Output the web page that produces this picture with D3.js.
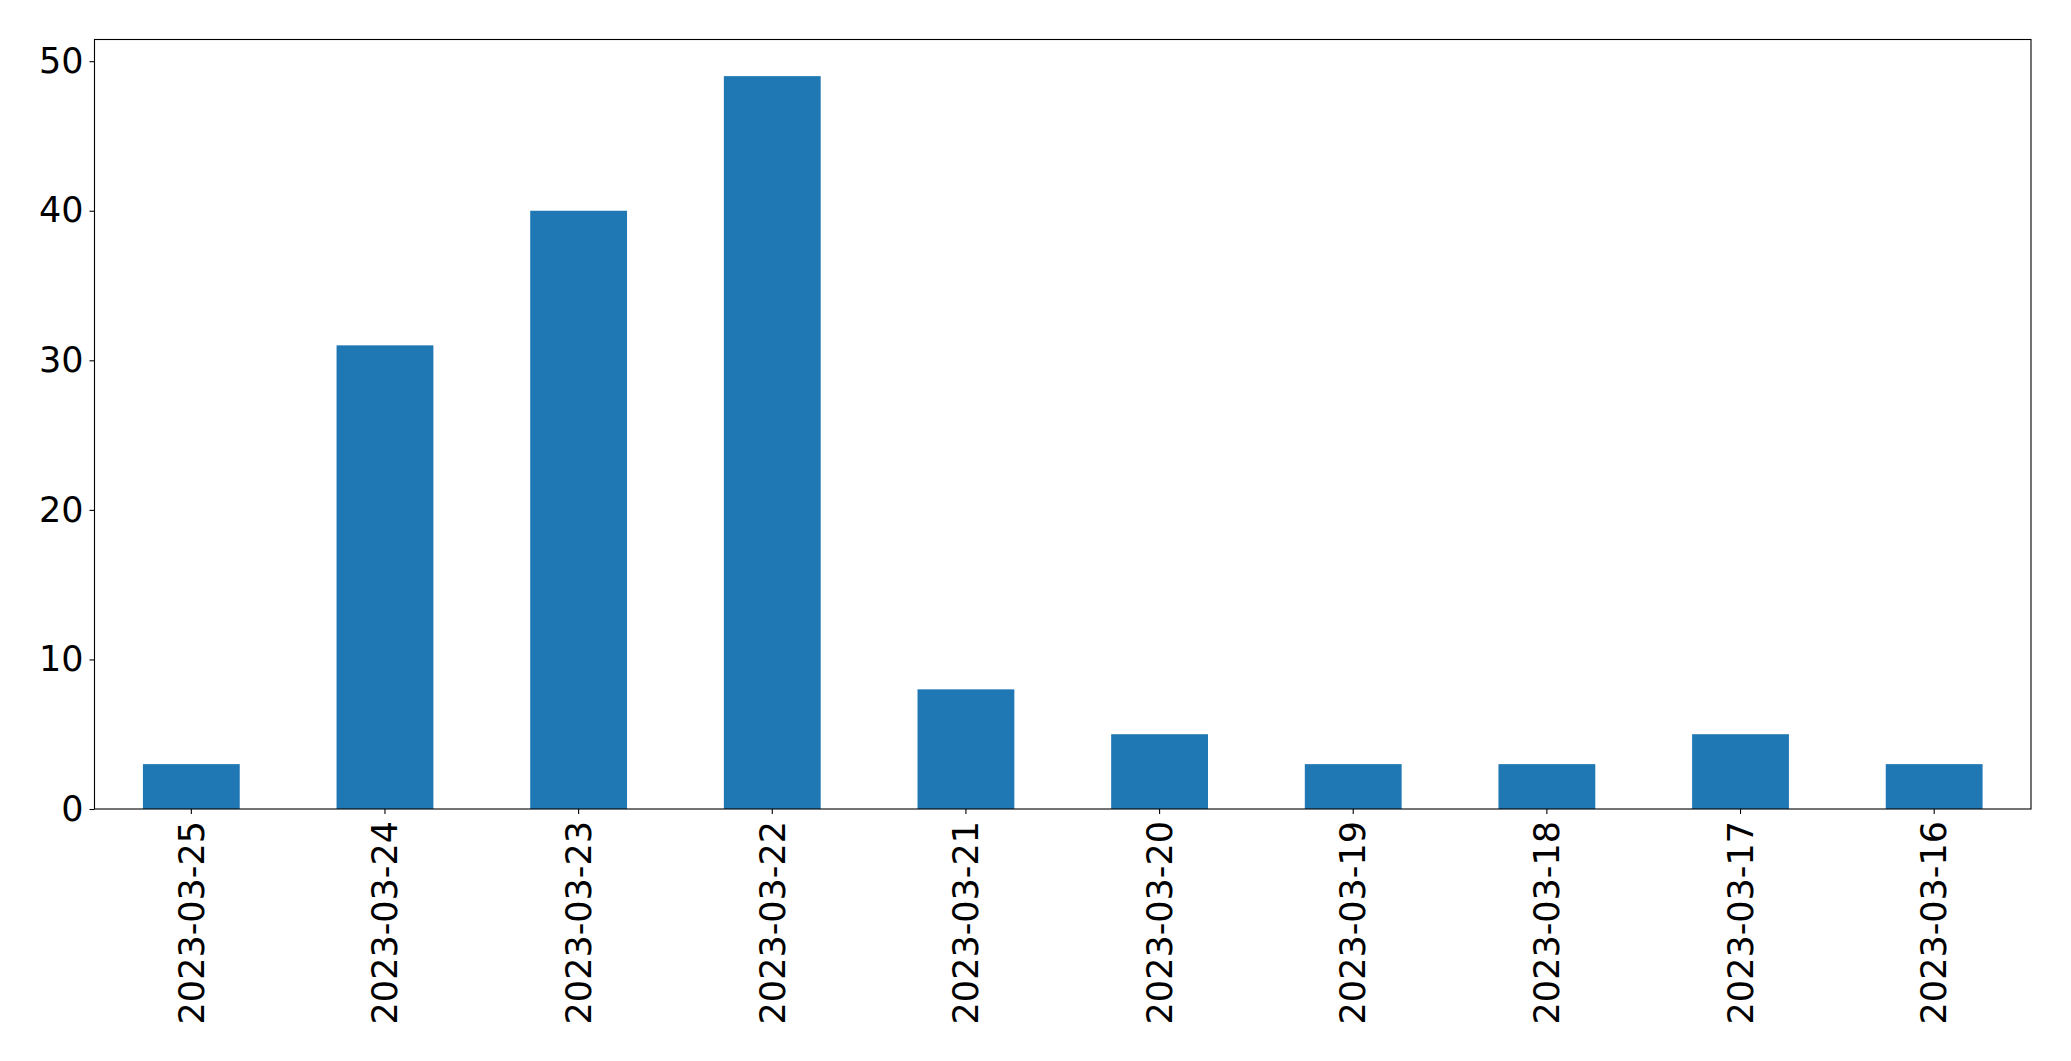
<!DOCTYPE html>
<html>
<head>
<meta charset="utf-8">
<script src="https://cdn.jsdelivr.net/npm/d3@7"></script>
<style>
  html, body { margin: 0; padding: 0; background: #fff; }
  svg { display: block; }
</style>
</head>
<body>
<svg id="chart" width="2071" height="1061"></svg>
<script>
const categories = ["2023-03-25","2023-03-24","2023-03-23","2023-03-22","2023-03-21","2023-03-20","2023-03-19","2023-03-18","2023-03-17","2023-03-16"];
const values = [3, 31, 40, 49, 8, 5, 3, 3, 5, 3];
const yTicks = [0, 10, 20, 30, 40, 50];

(function () {
const plotLeft = 94.5, plotRight = 2031, plotTop = 39.5, plotBottom = 809;
const fontSize = 35;

const svg = d3.select("#chart");

const x = d3.scaleBand().domain(categories).range([plotLeft, plotRight]).paddingInner(0.5).paddingOuter(0.25);
const yMax = d3.max(values) * 1.05;
const y = d3.scaleLinear().domain([0, yMax]).range([plotBottom, plotTop]);

svg.append("g").selectAll("rect").data(values).join("rect")
  .attr("x", (d, i) => x(categories[i]))
  .attr("y", d => y(d))
  .attr("width", x.bandwidth())
  .attr("height", d => y(0) - y(d))
  .attr("fill", "#1f77b4");

const yAxis = svg.append("g").attr("transform", `translate(${plotLeft},0)`)
  .call(d3.axisLeft(y).tickValues(yTicks).tickSize(5).tickPadding(6).tickFormat(d3.format("d")));
yAxis.select(".domain").remove();
yAxis.selectAll("line").attr("stroke", "#000").attr("stroke-width", 1.1);
yAxis.selectAll("text").attr("font-family", "DejaVu Sans").attr("font-size", fontSize).attr("fill", "#000");

const xAxis = svg.append("g").attr("transform", `translate(0,${plotBottom})`)
  .call(d3.axisBottom(x).tickSize(5).tickPadding(0));
xAxis.select(".domain").remove();
xAxis.selectAll("line").attr("stroke", "#000").attr("stroke-width", 1.1);
xAxis.selectAll("text")
  .attr("font-family", "DejaVu Sans").attr("font-size", fontSize).attr("fill", "#000")
  .attr("transform", "rotate(-90)")
  .attr("text-anchor", "end")
  .attr("x", -12)
  .attr("y", 0)
  .attr("dy", "0.35em");

svg.append("rect")
  .attr("x", plotLeft).attr("y", plotTop)
  .attr("width", plotRight - plotLeft).attr("height", plotBottom - plotTop)
  .attr("fill", "none").attr("stroke", "#000").attr("stroke-width", 1.1);
})();
</script>
</body>
</html>
